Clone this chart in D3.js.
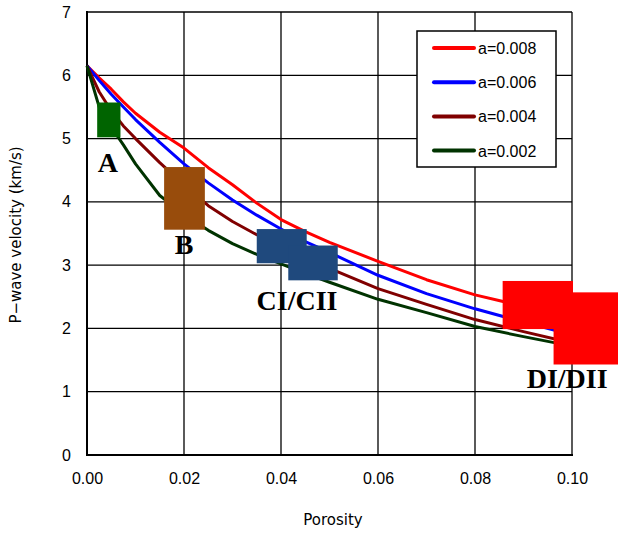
<!DOCTYPE html>
<meta charset="utf-8">
<style>
body { margin: 0; background: #fff; }
text { font-family: "Liberation Sans", Arial, sans-serif; }
.grid line { stroke: #000; stroke-width: 1.3px; }
.curve { fill: none; stroke-width: 3px; stroke-linejoin: round; }
.tag { font-family: "Liberation Serif", "Times New Roman", serif; font-weight: bold; font-size: 28px; }
.title { font-family: "DejaVu Sans", sans-serif; font-size: 15px; }
</style>
<svg width="618" height="534"></svg>
<script src="https://d3js.org/d3.v7.min.js"></script>
<script>
// porosity sample points and the velocities read for each curve
var porosity = [0, 0.0025, 0.005, 0.0075, 0.01, 0.015, 0.02, 0.025, 0.03, 0.035, 0.04, 0.045, 0.05, 0.06, 0.07, 0.08, 0.09, 0.1];
var v008 = [6.15, 5.96, 5.78, 5.58, 5.40, 5.10, 4.85, 4.54, 4.27, 3.98, 3.72, 3.53, 3.36, 3.06, 2.77, 2.53, 2.35, 2.20];
var v006 = [6.15, 5.92, 5.70, 5.50, 5.30, 4.94, 4.60, 4.30, 4.03, 3.79, 3.57, 3.37, 3.20, 2.84, 2.55, 2.31, 2.10, 1.90];
var v004 = [6.15, 5.74, 5.44, 5.20, 5.00, 4.62, 4.27, 3.94, 3.69, 3.48, 3.30, 3.12, 2.95, 2.63, 2.38, 2.14, 1.95, 1.77];
var v002 = [6.15, 5.50, 5.18, 4.90, 4.60, 4.10, 3.80, 3.55, 3.34, 3.17, 3.02, 2.87, 2.73, 2.46, 2.25, 2.03, 1.87, 1.72];

var seriesNames = ["a=0.008", "a=0.006", "a=0.004", "a=0.002"];
var seriesColors = ["#ff0000", "#0000ff", "#800000", "#003300"];
var seriesValues = [v008, v006, v004, v002];

// sample regions: [porosity from, porosity to, velocity low, velocity high]
var boxes = [
  [0.0021, 0.0069, 5.02, 5.57],
  [0.0159, 0.0243, 3.56, 4.55],
  [0.0350, 0.0453, 3.03, 3.57],
  [0.0415, 0.0517, 2.76, 3.31],
  [0.0857, 0.1002, 1.99, 2.75],
  [0.0962, 0.1095, 1.43, 2.57]
];
var boxColors = ["#006400", "#984c0c", "#1f497d", "#1f497d", "#ff0000", "#ff0000"];
var boxLabels = ["A", "B", "CI/CII", "DI/DII"];
var labelAt = [[0.0043, 4.47], [0.0200, 3.18], [0.0433, 2.29], [0.0990, 1.06]];

var xTicks = [0, 0.02, 0.04, 0.06, 0.08, 0.1];
var yTicks = [0, 1, 2, 3, 4, 5, 6, 7];

var svg = d3.select("svg");

var x = d3.scaleLinear().domain([0, 0.1]).range([87, 572]);
var y = d3.scaleLinear().domain([0, 7]).range([455, 12]);

var grid = svg.append("g").attr("class", "grid");
grid.selectAll(".gx").data(xTicks.slice(1)).enter().append("line")
    .attr("x1", function(d) { return x(d); }).attr("x2", function(d) { return x(d); })
    .attr("y1", y(0)).attr("y2", y(7));
grid.selectAll(".gy").data(yTicks.slice(1)).enter().append("line")
    .attr("x1", x(0)).attr("x2", x(0.1))
    .attr("y1", function(d) { return y(d); }).attr("y2", function(d) { return y(d); });

// axis frame
svg.append("line").attr("x1", x(0)).attr("x2", x(0)).attr("y1", y(7) - 1).attr("y2", y(0) + 1)
    .attr("stroke", "#000").attr("stroke-width", 2);
svg.append("line").attr("x1", x(0) - 1).attr("x2", x(0.1) + 1).attr("y1", y(0)).attr("y2", y(0))
    .attr("stroke", "#000").attr("stroke-width", 2);

svg.append("g").attr("transform", "translate(0," + y(0) + ")")
    .call(d3.axisBottom(x).tickValues(xTicks).tickFormat(d3.format(".2f")).tickSize(0).tickPadding(18));
svg.append("g").attr("transform", "translate(" + x(0) + ",0)")
    .call(d3.axisLeft(y).tickValues(yTicks).tickFormat(d3.format("d")).tickSize(0).tickPadding(16));
svg.selectAll(".domain").remove();
svg.selectAll(".tick text").attr("font-family", "Liberation Sans, Arial, sans-serif")
    .attr("font-size", 16).attr("fill", "#000");

var line = d3.line()
    .x(function(d, i) { return x(porosity[i]); })
    .y(function(d) { return y(d); });

svg.selectAll(".curve").data(seriesValues).enter().append("path")
    .attr("class", "curve")
    .attr("stroke", function(d, i) { return seriesColors[i]; })
    .attr("d", line);

svg.selectAll(".box").data(boxes).enter().append("rect")
    .attr("class", "box")
    .attr("x", function(d) { return x(d[0]); })
    .attr("width", function(d) { return x(d[1]) - x(d[0]); })
    .attr("y", function(d) { return y(d[3]); })
    .attr("height", function(d) { return y(d[2]) - y(d[3]); })
    .attr("fill", function(d, i) { return boxColors[i]; });

svg.selectAll(".tag").data(boxLabels).enter().append("text")
    .attr("class", "tag")
    .attr("x", function(d, i) { return x(labelAt[i][0]); })
    .attr("y", function(d, i) { return y(labelAt[i][1]); })
    .attr("text-anchor", "middle")
    .text(function(d) { return d; });

// legend
var legend = svg.append("g").attr("transform", "translate(417,31)");
legend.append("rect").attr("width", 139).attr("height", 136)
    .attr("fill", "#fff").attr("stroke", "#000").attr("stroke-width", 1.5);
var rows = legend.selectAll(".row").data(seriesNames).enter().append("g")
    .attr("transform", function(d, i) { return "translate(0," + (17 + i * 34.2) + ")"; });
rows.append("line").attr("x1", 17).attr("x2", 57).attr("y1", 0).attr("y2", 0)
    .attr("stroke", function(d, i) { return seriesColors[i]; })
    .attr("stroke-width", 4).attr("stroke-linecap", "round");
rows.append("text").attr("x", 61).attr("y", 6).attr("font-size", 16).text(function(d) { return d; });

svg.append("text").attr("class", "title").attr("x", 333).attr("y", 525).attr("text-anchor", "middle")
    .attr("font-size", 16).text("Porosity");
svg.append("text").attr("class", "title").attr("transform", "translate(21,235) rotate(-90)")
    .attr("text-anchor", "middle").text("P\u2212wave velocity (km/s)");
</script>
